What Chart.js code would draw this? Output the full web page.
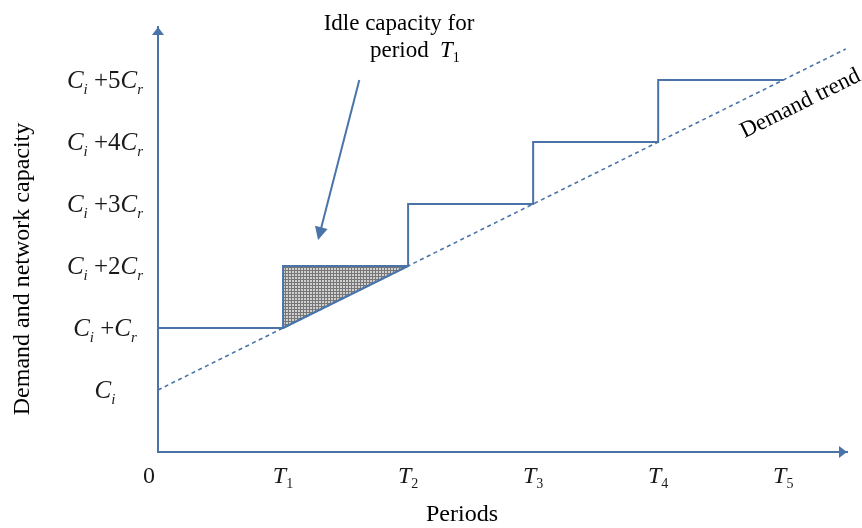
<!DOCTYPE html>
<html>
<head>
<meta charset="utf-8">
<title>Demand and network capacity</title>
<script src="https://cdn.jsdelivr.net/npm/chart.js@4.4.1/dist/chart.umd.min.js"></script>
<style>
  html, body { margin: 0; padding: 0; background: #fff; }
  #wrap { width: 862px; height: 528px; }
</style>
</head>
<body>
<div id="wrap"><canvas id="chart" width="862" height="528"></canvas></div>
<script>
// tick positions and their labels ("_x" = subscript)
var periodValues = [0, 1, 2, 3, 4, 5];
var periodLabels = ['0', 'T_1', 'T_2', 'T_3', 'T_4', 'T_5'];
var levelValues = [0, 1, 2, 3, 4, 5];
var levelLabels = ['C_i', 'C_i +C_r', 'C_i +2C_r', 'C_i +3C_r', 'C_i +4C_r', 'C_i +5C_r'];

// network capacity (step corners)
var capacityX = [0, 1, 1, 2, 2, 3, 3, 4, 4, 5];
var capacityY = [1, 1, 2, 2, 3, 3, 4, 4, 5, 5];

// demand trend
var trendX = [0, 5.5];
var trendY = [0, 5.5];

// idle capacity for period T1
var idleX = [1, 1, 2];
var idleY = [1, 2, 2];

var BLUE = '#4a74a8';
var SERIF = '"Liberation Serif", "Times New Roman", serif';

function pts(xs, ys) {
  return xs.map(function (x, i) { return { x: x, y: ys[i] }; });
}

// dotted grey texture for the idle area
function makeHatch() {
  var c = document.createElement('canvas');
  c.width = 3; c.height = 3;
  var g = c.getContext('2d');
  g.fillStyle = '#d0d0d0';
  g.fillRect(0, 0, 3, 3);
  g.fillStyle = '#767676';
  g.fillRect(0, 0, 3, 1);
  g.fillRect(0, 0, 1, 3);
  return g.createPattern(c, 'repeat');
}

// split "C_i +2C_r" into styled runs
function parseLabel(str, size) {
  var runs = [];
  var sub = Math.round(size * 0.6);
  for (var i = 0; i < str.length; i++) {
    var ch = str[i];
    if (ch === '_') {
      var s = str[++i];
      var it = /[a-zA-Z]/.test(s) ? 'italic ' : '';
      runs.push({ t: s, font: it + sub + 'px ' + SERIF, dy: size * 0.22 });
    } else {
      var it2 = /[a-zA-Z]/.test(ch) ? 'italic ' : '';
      runs.push({ t: ch, font: it2 + size + 'px ' + SERIF, dy: 0 });
    }
  }
  return runs;
}

function drawRuns(ctx, runs, x, y, align) {
  var w = 0;
  runs.forEach(function (r) { ctx.font = r.font; r.w = ctx.measureText(r.t).width; w += r.w; });
  var cx = align === 'center' ? x - w / 2 : (align === 'right' ? x - w : x);
  ctx.textAlign = 'left';
  ctx.textBaseline = 'alphabetic';
  runs.forEach(function (r) {
    ctx.font = r.font;
    ctx.fillText(r.t, cx, y + r.dy);
    cx += r.w;
  });
}

function arrowHead(ctx, tipX, tipY, angle, len, half) {
  ctx.save();
  ctx.translate(tipX, tipY);
  ctx.rotate(angle);
  ctx.beginPath();
  ctx.moveTo(0, 0);
  ctx.lineTo(-len, -half);
  ctx.lineTo(-len, half);
  ctx.closePath();
  ctx.fill();
  ctx.restore();
}

var decorations = {
  id: 'decorations',
  afterDraw: function (chart) {
    var ctx = chart.ctx;
    var xs = chart.scales.x, ys = chart.scales.y;
    var area = chart.chartArea;
    ctx.save();

    // axis arrows
    ctx.fillStyle = BLUE;
    arrowHead(ctx, area.right, area.bottom, 0, 8, 6);
    arrowHead(ctx, area.left, area.top, -Math.PI / 2, 8, 6);

    // tick labels
    ctx.fillStyle = '#1a1a1a';
    levelValues.forEach(function (v, i) {
      drawRuns(ctx, parseLabel(levelLabels[i], 25), 105, ys.getPixelForValue(v) + 8, 'center');
    });
    periodValues.forEach(function (v, i) {
      var px = xs.getPixelForValue(v);
      if (periodLabels[i] === '0') {
        drawRuns(ctx, parseLabel('0', 24), px - 3, area.bottom + 31, 'right');
      } else {
        drawRuns(ctx, parseLabel(periodLabels[i], 24), px, area.bottom + 31, 'center');
      }
    });

    // axis titles
    ctx.fillStyle = '#000';
    ctx.font = '24px ' + SERIF;
    ctx.textAlign = 'center';
    ctx.textBaseline = 'alphabetic';
    ctx.fillText('Periods', 462, 521);
    ctx.save();
    ctx.translate(29, 269);
    ctx.rotate(-Math.PI / 2);
    ctx.fillText('Demand and network capacity', 0, 0);
    ctx.restore();

    // annotation for the idle area
    ctx.font = '23px ' + SERIF;
    ctx.fillText('Idle capacity for', 399, 30);
    ctx.textAlign = 'left';
    ctx.fillText('period', 370, 57);
    drawRuns(ctx, parseLabel('T_1', 23), 440, 57, 'left');

    var x0 = xs.getPixelForValue(1.61), y0 = ys.getPixelForValue(5.0);
    var x1 = xs.getPixelForValue(1.28), y1 = ys.getPixelForValue(2.42);
    var ang = Math.atan2(y1 - y0, x1 - x0);
    ctx.strokeStyle = BLUE;
    ctx.fillStyle = BLUE;
    ctx.lineWidth = 2;
    ctx.beginPath();
    ctx.moveTo(x0, y0);
    ctx.lineTo(x1 - 10 * Math.cos(ang), y1 - 10 * Math.sin(ang));
    ctx.stroke();
    arrowHead(ctx, x1, y1, ang, 13, 6.5);

    // trend label, parallel to the dashed line
    var ax = xs.getPixelForValue(0), ay = ys.getPixelForValue(0);
    var bx = xs.getPixelForValue(5), by = ys.getPixelForValue(5);
    ctx.save();
    ctx.translate(xs.getPixelForValue(4.69), ys.getPixelForValue(4.06));
    ctx.rotate(Math.atan2(by - ay, bx - ax));
    ctx.fillStyle = '#000';
    ctx.font = '23px ' + SERIF;
    ctx.textAlign = 'left';
    ctx.fillText('Demand trend', 0, 0);
    ctx.restore();

    ctx.restore();
  }
};

var ctx = document.getElementById('chart');
var myChart = new Chart(ctx, {
  type: 'scatter',
  data: {
    datasets: [
      {
        label: 'Network capacity',
        data: pts(capacityX, capacityY),
        showLine: true,
        borderColor: BLUE,
        borderWidth: 2,
        pointRadius: 0,
        tension: 0
      },
      {
        label: 'Demand (T1-T2)',
        data: pts([1, 2], [1, 2]),
        showLine: true,
        borderColor: BLUE,
        borderWidth: 2,
        pointRadius: 0
      },
      {
        label: 'Demand trend',
        data: pts(trendX, trendY),
        showLine: true,
        borderColor: BLUE,
        borderWidth: 1.6,
        borderDash: [4, 3.5],
        pointRadius: 0
      },
      {
        label: 'Idle capacity',
        data: pts(idleX, idleY),
        showLine: true,
        borderWidth: 0,
        borderColor: 'rgba(0,0,0,0)',
        backgroundColor: makeHatch(),
        fill: 'shape',
        pointRadius: 0
      }
    ]
  },
  options: {
    responsive: false,
    animation: false,
    devicePixelRatio: 1,
    layout: {
      autoPadding: false,
      padding: { left: 158, right: 15, top: 27, bottom: 76 }
    },
    plugins: {
      legend: { display: false },
      tooltip: { enabled: false }
    },
    scales: {
      x: {
        type: 'linear',
        min: 0,
        max: 5.51,
        ticks: { display: false },
        grid: { display: false, drawTicks: false },
        border: { display: true, color: BLUE, width: 2 }
      },
      y: {
        type: 'linear',
        min: -1,
        max: 5.855,
        ticks: { display: false },
        grid: { display: false, drawTicks: false },
        border: { display: true, color: BLUE, width: 2 }
      }
    }
  },
  plugins: [decorations]
});
</script>
</body>
</html>
